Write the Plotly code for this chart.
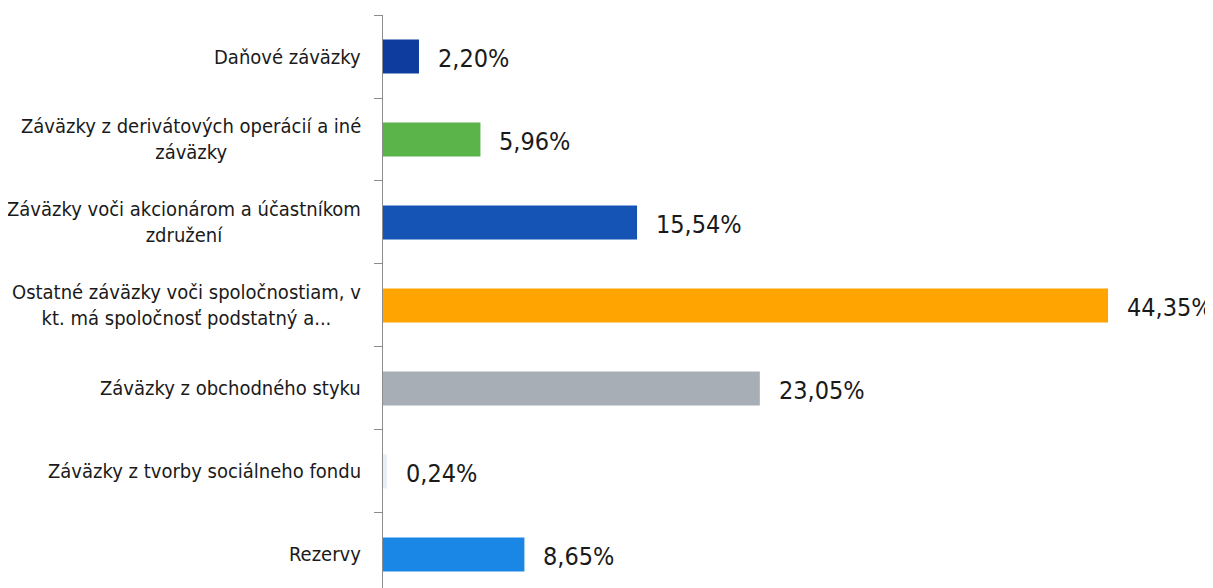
import plotly.graph_objects as go

categories = [
    "Daňové záväzky",
    "Záväzky z derivátových operácií a iné<br>záväzky",
    "Záväzky voči akcionárom a účastníkom<br>združení",
    "Ostatné záväzky voči spoločnostiam, v<br>kt. má spoločnosť podstatný a...",
    "Záväzky z obchodného styku",
    "Záväzky z tvorby sociálneho fondu",
    "Rezervy",
]
values = [2.20, 5.96, 15.54, 44.35, 23.05, 0.24, 8.65]
value_labels = ["2,20%", "5,96%", "15,54%", "44,35%", "23,05%", "0,24%", "8,65%"]
colors = ["#0D3C9E", "#5BB449", "#1553B5", "#FFA400", "#A8AEB6", "#E8EEF6", "#1A87E6"]

FONT = "DejaVu Sans Condensed, DejaVu Sans, sans-serif"

fig = go.Figure()
fig.add_trace(go.Bar(
    y=categories, x=values, orientation="h",
    marker=dict(color=colors, line=dict(width=0)),
    width=0.41, hoverinfo="skip",
))

annotations = []
for c, v, t in zip(categories, values, value_labels):
    annotations.append(dict(
        x=v, y=c, xref="x", yref="y", text=t, showarrow=False,
        xanchor="left", yanchor="middle", xshift=17, yshift=-2,
        font=dict(family=FONT, size=25, color="#1a1a1a"),
    ))
    annotations.append(dict(
        x=0, y=c, xref="paper", yref="y", text=c, showarrow=False,
        xanchor="right", yanchor="middle", align="center", xshift=-20,
        font=dict(family=FONT, size=20, color="#1a1a1a"),
    ))

n = len(categories)
fig.update_layout(
    width=1205, height=580,
    margin=dict(l=375, r=0, t=7, b=0, autoexpand=False),
    paper_bgcolor="white", plot_bgcolor="white",
    showlegend=False,
    annotations=annotations,
    xaxis=dict(range=[0, 50.77], visible=False, fixedrange=True, automargin=False),
    yaxis=dict(
        type="category", automargin=False,
        categoryorder="array", categoryarray=categories,
        range=[6.404, -0.5],
        showticklabels=False,
        showline=True, linecolor="#8c8c8c", linewidth=1,
        ticks="outside", tickson="boundaries", ticklen=8, tickcolor="#8c8c8c",
        showgrid=False, zeroline=False,
    ),
)

fig.write_html("out.html")
